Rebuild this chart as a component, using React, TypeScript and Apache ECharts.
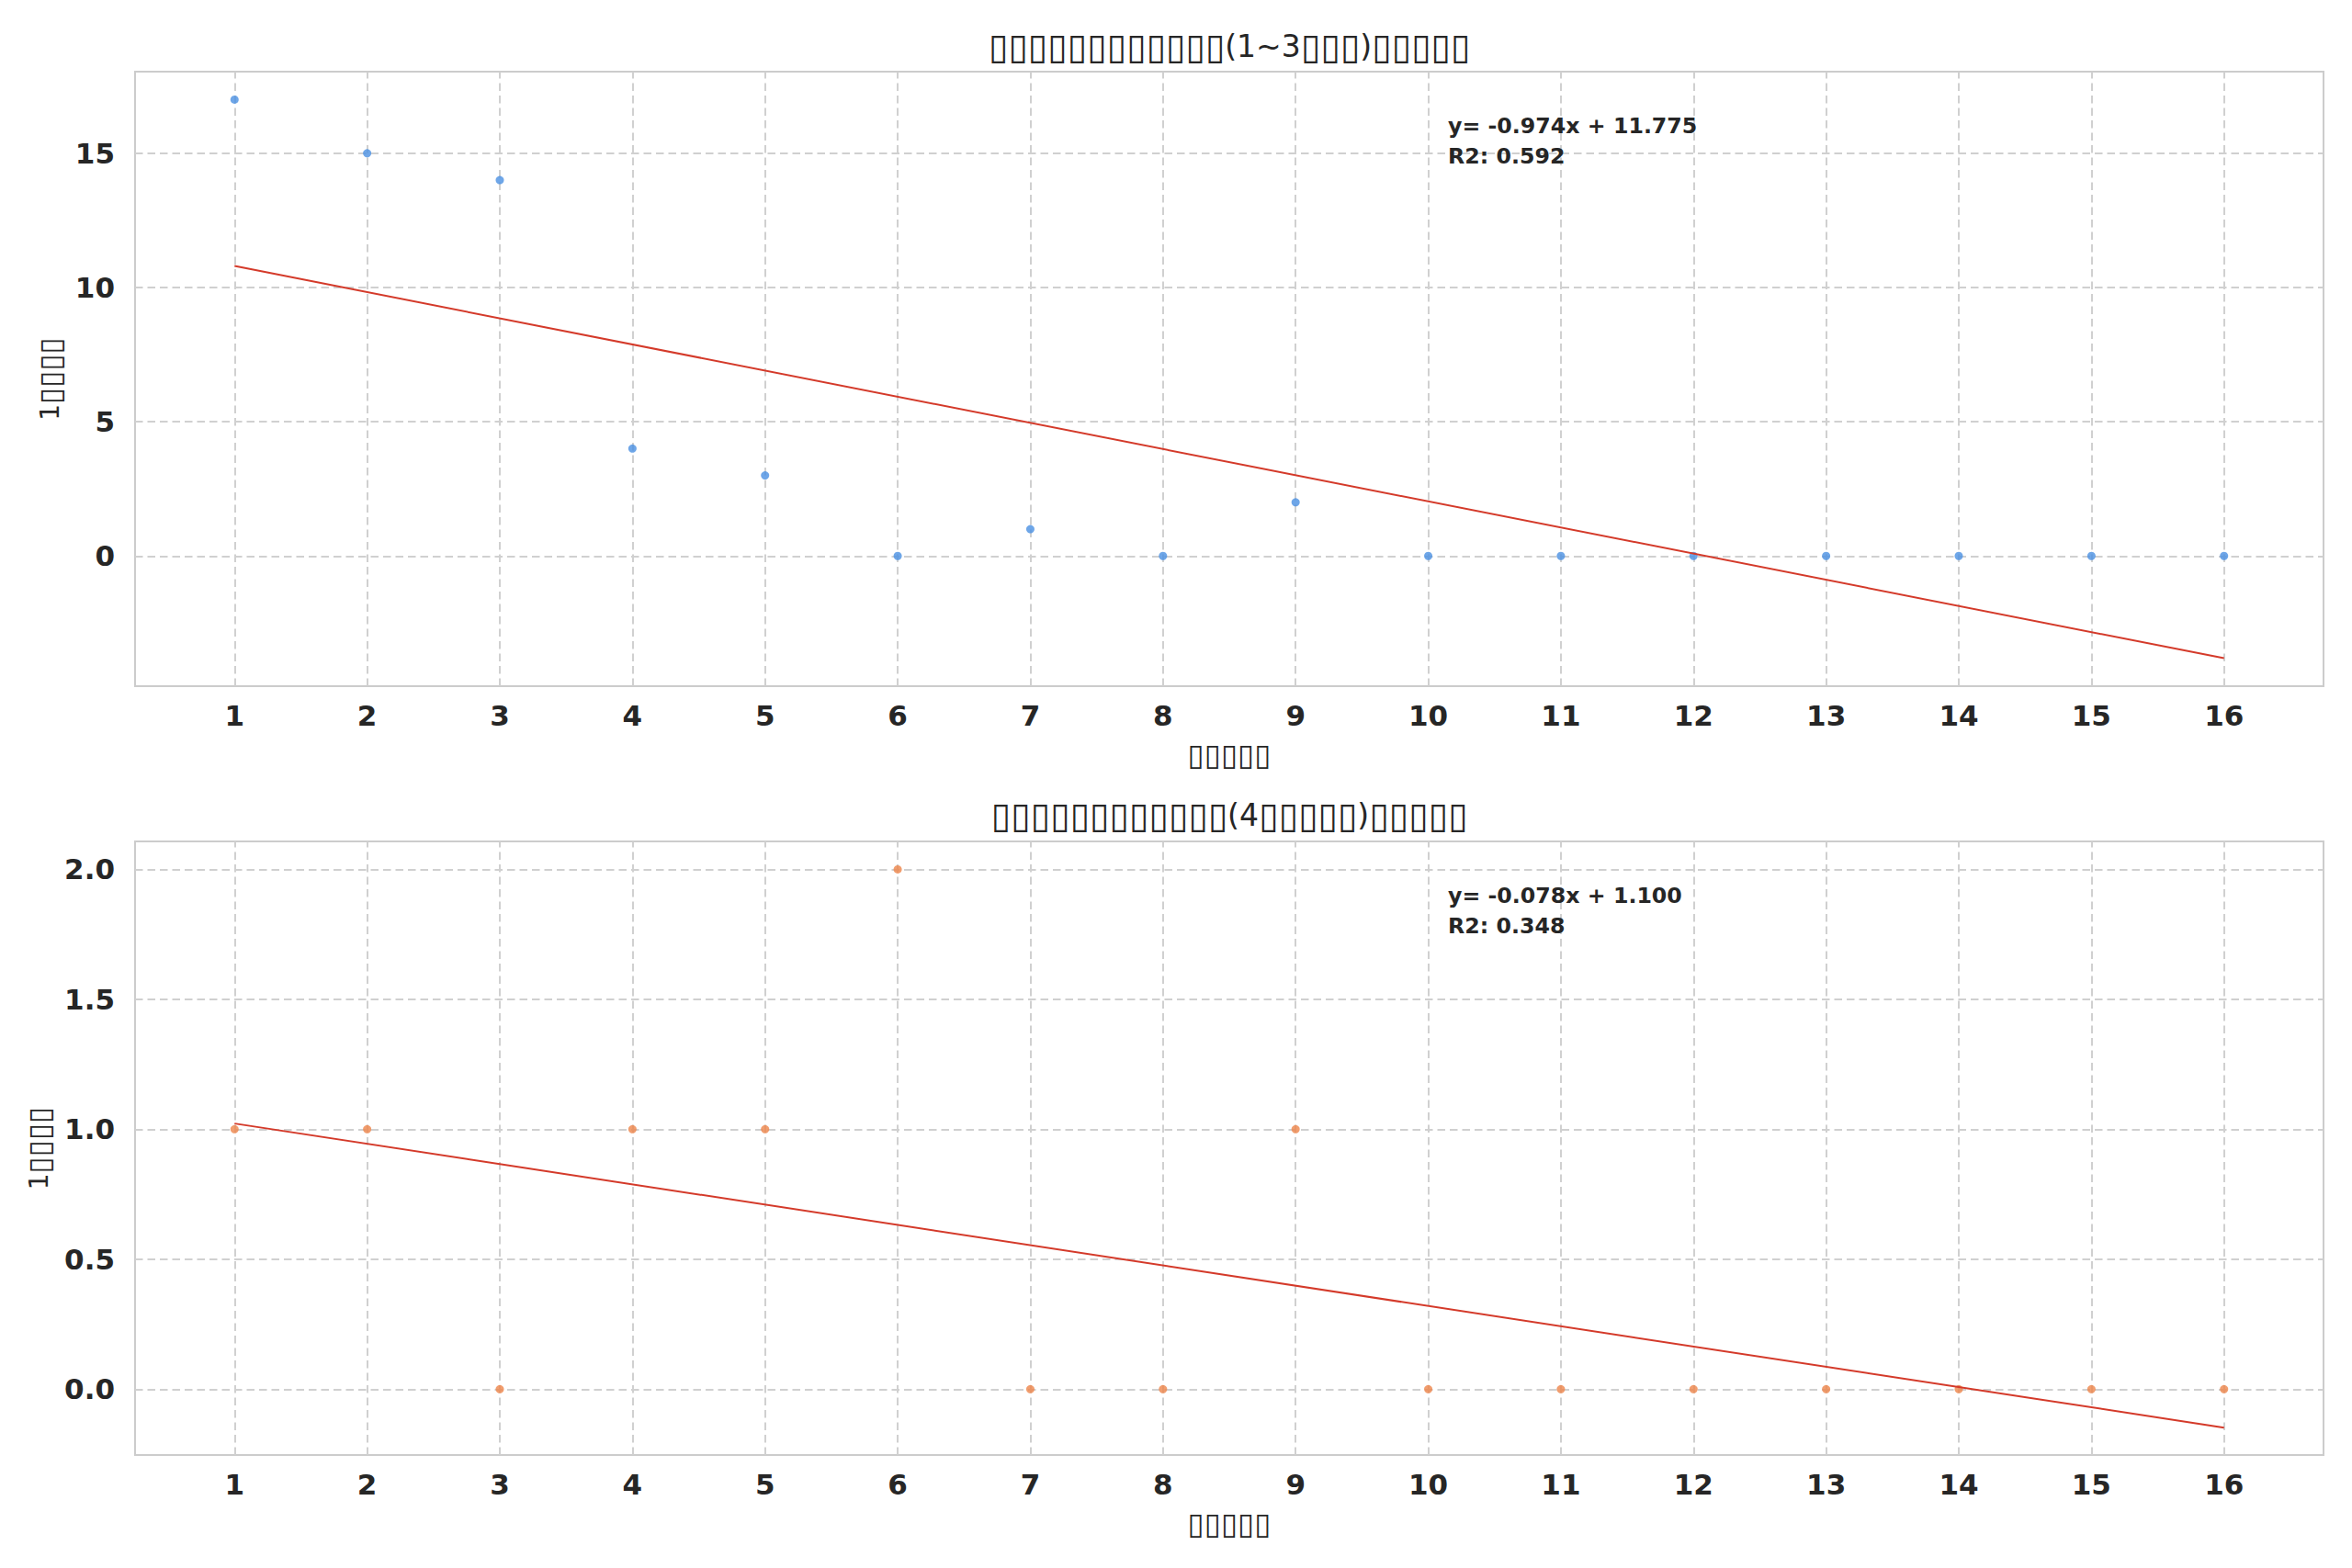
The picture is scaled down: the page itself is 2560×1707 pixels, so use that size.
import React, { useEffect, useRef } from 'react';
import * as echarts from 'echarts';

const months = [1, 2, 3, 4, 5, 6, 7, 8, 9, 10, 11, 12, 13, 14, 15, 16];
const topCounts = [17, 15, 14, 4, 3, 0, 1, 0, 2, 0, 0, 0, 0, 0, 0, 0];
const bottomCounts = [1, 1, 0, 1, 1, 2, 0, 0, 1, 0, 0, 0, 0, 0, 0, 0];
const topFit = [[1, 10.801], [16, -3.809]];
const bottomFit = [[1, 1.022], [16, -0.148]];
const topYTicks = [0, 5, 10, 15];
const bottomYTicks = [0, 0.5, 1, 1.5, 2];
// Text pieces: glyphs missing in the original render appear as boxes
const topTitleParts = ['▯▯▯▯▯▯▯▯▯▯▯▯', '(1~3', '▯▯▯', ')', '▯▯▯▯▯'];
const bottomTitleParts = ['▯▯▯▯▯▯▯▯▯▯▯▯', '(4', '▯▯▯▯▯', ')', '▯▯▯▯▯'];
const xNameParts = ['▯▯▯▯▯'];
const yNameParts = ['1', '▯▯▯▯'];
const topAnnot = ['y= -0.974x + 11.775', 'R2: 0.592'];
const bottomAnnot = ['y= -0.078x + 1.100', 'R2: 0.348'];

const FONT = '"DejaVu Sans", sans-serif';
const TXT = '#262626';
const GRIDC = '#d0d0d0';

const GRID_L = 147;
const GRID_R = 31;
const G1_TOP = 78;
const G1_H = 669;
const G2_TOP = 916;
const G2_H = 668;

const richJoin = (parts: string[]) =>
  parts.map((p) => (p.startsWith('▯') ? `{b|${p}}` : `{n|${p}}`)).join('');

export default function App() {
  const ref = useRef<HTMLDivElement>(null);
  useEffect(() => {
    if (!ref.current) return;
    const chart = echarts.init(ref.current, null, { renderer: 'svg' });

    const nameRich = {
      n: { fontFamily: FONT, fontSize: 28, color: TXT },
      b: { fontFamily: FONT, fontSize: 33, color: TXT },
    };

    const xAxisBase = (idx: number) => ({
      type: 'value',
      gridIndex: idx,
      min: 0.25,
      max: 16.75,
      axisLine: { show: false },
      axisTick: { show: false },
      splitLine: { show: false },
      axisLabel: {
        customValues: months,
        fontFamily: FONT,
        fontSize: 31,
        fontWeight: 'bold',
        color: TXT,
        margin: 16,
      },
      name: richJoin(xNameParts),
      nameLocation: 'middle',
      nameGap: 58,
      nameTextStyle: { fontFamily: FONT, fontSize: 28, color: TXT, rich: nameRich },
    });

    const yAxisBase = (idx: number, min: number, max: number, ticks: number[], dec: number, gap: number) => ({
      type: 'value',
      gridIndex: idx,
      min,
      max,
      axisLine: { show: false },
      axisTick: { show: false },
      splitLine: { show: false },
      axisLabel: {
        customValues: ticks,
        formatter: (v: number) => v.toFixed(dec),
        fontFamily: FONT,
        fontSize: 31,
        fontWeight: 'bold',
        color: TXT,
        margin: 22,
      },
      name: richJoin(yNameParts),
      nameLocation: 'middle',
      nameRotate: 90,
      nameGap: gap,
      nameTextStyle: { fontFamily: FONT, fontSize: 28, color: TXT, rich: nameRich },
    });

    const gridLines = (idx: number, ticks: number[]) => ({
      type: 'line',
      xAxisIndex: idx,
      yAxisIndex: idx,
      data: [],
      z: 0,
      silent: true,
      markLine: {
        silent: true,
        z: 0,
        symbol: 'none',
        label: { show: false },
        emphasis: { disabled: true },
        lineStyle: { color: GRIDC, width: 2, type: [8.5, 5] },
        data: [
          ...months.map((m) => ({ xAxis: m })),
          ...ticks.map((t) => ({ yAxis: t })),
        ],
      },
    });

    const scatter = (idx: number, vals: number[], color: string) => ({
      type: 'scatter',
      xAxisIndex: idx,
      yAxisIndex: idx,
      data: months.map((m, i) => [m, vals[i]]),
      symbolSize: 9,
      itemStyle: { color },
      z: 3,
      emphasis: { disabled: true },
    });

    const fit = (idx: number, pts: number[][]) => ({
      type: 'line',
      xAxisIndex: idx,
      yAxisIndex: idx,
      data: pts,
      showSymbol: false,
      symbol: 'none',
      lineStyle: { color: '#d43a2a', width: 2 },
      z: 4,
      emphasis: { disabled: true },
    });

    const annot = (lines: string[], top: number) => ({
      type: 'text',
      x: 1576,
      y: top,
      style: {
        text: lines.join('\n'),
        fontFamily: FONT,
        fontSize: 23.7,
        fontWeight: 'bold',
        fill: TXT,
        lineHeight: 33,
        align: 'left',
        verticalAlign: 'top',
      },
      z: 10,
    });

    const title = (parts: string[], y: number) => ({
      type: 'text',
      x: GRID_L + (2560 - GRID_L - GRID_R) / 2,
      y,
      style: {
        text: richJoin(parts),
        fontFamily: FONT,
        fontSize: 33,
        fill: TXT,
        align: 'center',
        verticalAlign: 'middle',
        rich: {
          n: { fontFamily: FONT, fontSize: 33, fill: TXT },
          b: { fontFamily: FONT, fontSize: 39, fill: TXT },
        },
      },
    });

    chart.setOption({
      animation: false,
      backgroundColor: '#ffffff',
      grid: [
        { left: GRID_L, right: GRID_R, top: G1_TOP, height: G1_H, show: true, borderColor: '#cccccc', borderWidth: 2, backgroundColor: 'transparent' },
        { left: GRID_L, right: GRID_R, top: G2_TOP, height: G2_H, show: true, borderColor: '#cccccc', borderWidth: 2, backgroundColor: 'transparent' },
      ],
      xAxis: [xAxisBase(0), xAxisBase(1)],
      yAxis: [
        yAxisBase(0, -4.85, 18.04, topYTicks, 0, 73),
        yAxisBase(1, -0.2535, 2.1075, bottomYTicks, 1, 84),
      ],
      series: [
        gridLines(0, topYTicks),
        gridLines(1, bottomYTicks),
        scatter(0, topCounts, '#4a90e2'),
        scatter(1, bottomCounts, '#ee854a'),
        fit(0, topFit),
        fit(1, bottomFit),
      ],
      graphic: [
        title(topTitleParts, 50),
        title(bottomTitleParts, 887),
        annot(topAnnot, 120),
        annot(bottomAnnot, 120 + (G2_TOP - G1_TOP)),
      ],
    });

    return () => chart.dispose();
  }, []);

  return (
    <div
      ref={ref}
      style={{ position: 'absolute', left: 0, top: 0, width: 2560, height: 1707, background: '#fff' }}
    />
  );
}
